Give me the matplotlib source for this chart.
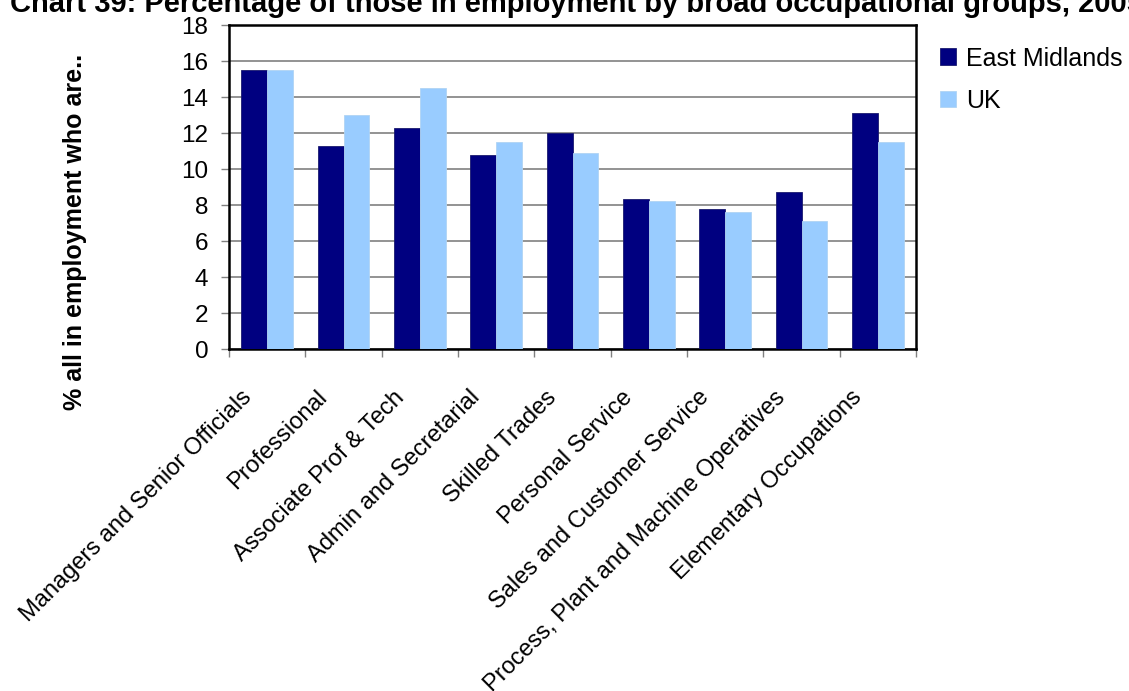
import numpy as np
import matplotlib
matplotlib.use("Agg")
from matplotlib import pyplot as plt
from matplotlib import transforms

plt.rcParams['font.family'] = ['Liberation Sans', 'DejaVu Sans']

categories = ['Managers and Senior Officials', 'Professional', 'Associate Prof & Tech',
              'Admin and Secretarial', 'Skilled Trades', 'Personal Service',
              'Sales and Customer Service', 'Process, Plant and Machine Operatives',
              'Elementary Occupations']
east_midlands = [15.5, 11.3, 12.3, 10.8, 12.0, 8.35, 7.8, 8.7, 13.1]
uk = [15.5, 13.0, 14.5, 11.5, 10.9, 8.25, 7.6, 7.1, 11.5]
yticks = [0, 2, 4, 6, 8, 10, 12, 14, 16, 18]

title = "Chart 39: Percentage of those in employment by broad occupational groups, 2005"
ylabel = "% all in employment who are.."

fig = plt.figure(figsize=(11.29, 6.91), dpi=100)
ax = fig.add_axes([229/1129, 1 - 349/691, 687/1129, 324/691])

x = np.arange(len(categories))
w = 0.34
ax.bar(x - w/2, east_midlands, w, color='#000080', edgecolor='#1a1a6e', linewidth=0.6,
       label='East Midlands', zorder=3)
ax.bar(x + w/2, uk, w, color='#99ccff', edgecolor='#b0d4f4', linewidth=0.6,
       label='UK', zorder=3)

ax.set_xlim(-0.5, len(categories) - 0.5)
ax.set_ylim(0, 18)
ax.set_yticks(yticks)
ax.set_yticklabels([str(v) for v in yticks], fontsize=17.5)
ax.yaxis.grid(True, color='#808080', linewidth=1.2, zorder=0)
ax.tick_params(axis='y', length=6, width=1, color='#808080', pad=9)

# ticks between the groups, labels at the group centres
ax.set_xticks(np.arange(len(categories) + 1) - 0.5, minor=True)
ax.tick_params(axis='x', which='minor', length=6, width=1, color='#808080')
ax.set_xticks(x)
ax.tick_params(axis='x', which='major', length=0, pad=27)
labels = ax.set_xticklabels(categories, rotation=45, ha='right', va='top',
                            rotation_mode='anchor', fontsize=17)
offset = transforms.ScaledTranslation(-27/100, 0, fig.dpi_scale_trans)
for lab in labels:
    lab.set_transform(lab.get_transform() + offset)

for s in ax.spines.values():
    s.set_color('black')
    s.set_linewidth(1.8)

fig.text(75/1129, 1 - 232/691, ylabel, rotation=90, ha='center', va='center',
         fontsize=18, fontweight='bold')
# title runs off the top and right edge, as in the original export
fig.text(10/1129, 1 - 12/691, title, ha='left', va='baseline', fontsize=21,
         fontweight='bold')

ax.legend(loc='upper left', bbox_to_anchor=(927/1129, 1 - 34/691),
          bbox_transform=fig.transFigure, frameon=False, fontsize=18,
          handlelength=0.65, handleheight=0.65, handletextpad=0.4, labelspacing=0.73,
          borderpad=0)

plt.savefig("out.png", dpi=100)
